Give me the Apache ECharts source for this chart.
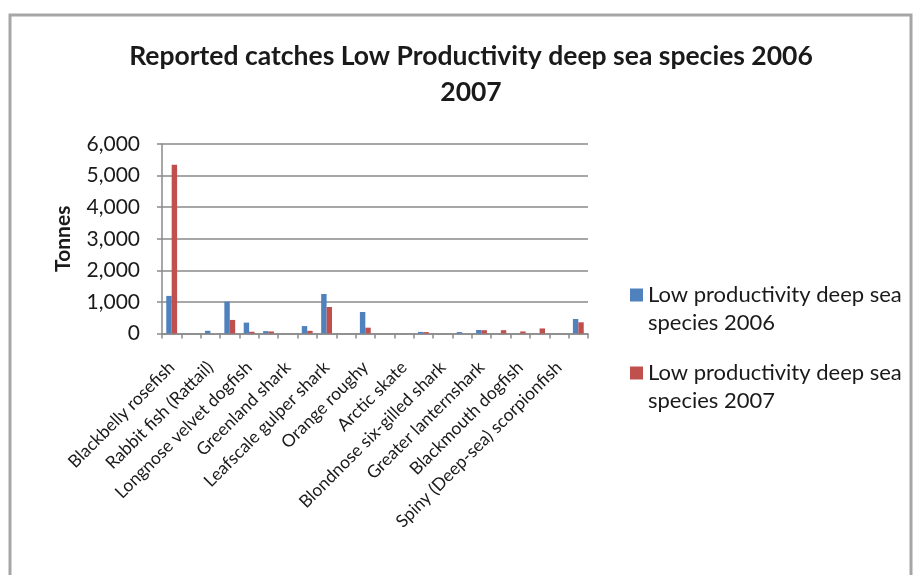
<!DOCTYPE html>
<html>
<head>
<meta charset="utf-8">
<script src="https://cdn.jsdelivr.net/npm/echarts@6/dist/echarts.min.js"></script>
<style>
  html, body { margin: 0; padding: 0; background: #ffffff; }
  #chart { width: 915px; height: 575px; }
</style>
</head>
<body>
<div id="chart"></div>
<script>
// Deep-sea species, in reporting order (only every other name fits on the axis)
const categories = [
  'Blackbelly rosefish', 'Kitefin shark', 'Rabbit fish (Rattail)', 'Portuguese dogfish',
  'Longnose velvet dogfish', 'Gulper shark', 'Greenland shark', 'Black dogfish',
  'Leafscale gulper shark', 'Birdbeak dogfish', 'Orange roughy', 'Smooth lanternshark',
  'Arctic skate', 'Frilled shark', 'Blondnose six-gilled shark', 'Mouse catshark',
  'Greater lanternshark', 'Iceland catshark', 'Blackmouth dogfish', 'Sailfin roughshark',
  'Spiny (Deep-sea) scorpionfish', 'Knifetooth dogfish'
];

// Reported catches in tonnes
const catch2006 = [1190, 0, 86, 1010, 345, 75, 0, 235, 1250, 0, 680, 0, 0, 50, 0, 45, 110, 0, 0, 0, 0, 460];
const catch2007 = [5340, 0, 0, 430, 55, 65, 0, 85, 840, 0, 185, 0, 0, 45, 0, 0, 105, 105, 65, 160, 0, 355];

const seriesNames = [
  'Low productivity deep sea species 2006',
  'Low productivity deep sea species 2007'
];
const yTicks = { min: 0, max: 6000, interval: 1000 };

const FONT = 'Lato, "Open Sans", sans-serif';
const INK = '#1a1a1a';
const GRID_GREY = '#8a8a8a';

const chart = echarts.init(document.getElementById('chart'), null, { renderer: 'canvas' });

// Legend entries wrap after "sea"; a leading blank line keeps the first line level with the swatch
const legendText = name => '\n' + name.replace(' species', '\nspecies');
const LEGEND_LH = 28;
const legendBase = {
  orient: 'vertical',
  left: 625,
  itemWidth: 13,
  itemHeight: 13,
  icon: 'rect',
  textStyle: { fontFamily: FONT, fontSize: 22, color: INK, lineHeight: LEGEND_LH },
  itemGap: 0,
  formatter: legendText
};

chart.setOption({
  animation: false,
  backgroundColor: '#ffffff',
  title: {
    text: 'Reported catches Low Productivity deep sea species 2006\n2007',
    left: 466,
    textAlign: 'center',
    top: 33,
    textStyle: {
      fontFamily: FONT,
      fontWeight: 'bold',
      fontSize: 26.5,
      lineHeight: 36,
      color: INK
    }
  },
  legend: [
    Object.assign({}, legendBase, { top: 295 - 1.5 * LEGEND_LH - 5, data: [seriesNames[0]] }),
    Object.assign({}, legendBase, { top: 373 - 1.5 * LEGEND_LH - 5, data: [seriesNames[1]] })
  ],
  grid: { left: 162, right: 327, top: 144, bottom: 241.5, containLabel: false },
  xAxis: {
    type: 'category',
    data: categories,
    boundaryGap: true,
    axisLine: { show: true, lineStyle: { color: GRID_GREY, width: 1.5 } },
    axisTick: { show: true, length: 5, interval: 0, lineStyle: { color: GRID_GREY, width: 1.5 } },
    axisLabel: {
      interval: 1,
      rotate: 45,
      margin: 31,
      fontFamily: FONT,
      fontSize: 17.5,
      color: INK
    }
  },
  yAxis: {
    type: 'value',
    min: yTicks.min,
    max: yTicks.max,
    interval: yTicks.interval,
    name: 'Tonnes',
    nameLocation: 'middle',
    nameGap: 88,
    nameRotate: 90,
    nameTextStyle: { fontFamily: FONT, fontSize: 21, fontWeight: 'bold', color: INK },
    axisLine: { show: true, lineStyle: { color: GRID_GREY, width: 1.5 } },
    axisTick: { show: true, length: 5, lineStyle: { color: GRID_GREY, width: 1.5 } },
    splitLine: { show: true, lineStyle: { color: GRID_GREY, width: 1.5 } },
    axisLabel: {
      margin: 22,
      fontFamily: FONT,
      fontSize: 21,
      color: INK,
      formatter: v => v.toLocaleString('en-US')
    }
  },
  series: [
    {
      name: seriesNames[0],
      type: 'bar',
      data: catch2006,
      itemStyle: { color: '#4F81BD' },
      barGap: '0%',
      barCategoryGap: '44%'
    },
    {
      name: seriesNames[1],
      type: 'bar',
      data: catch2007,
      itemStyle: { color: '#C0504D' },
      barGap: '0%',
      barCategoryGap: '44%'
    }
  ],
  graphic: [
    {
      type: 'rect',
      silent: true,
      z: -1,
      shape: { x: 10, y: 15, width: 901, height: 620 },
      style: { fill: null, stroke: '#a6a6a6', lineWidth: 3 }
    }
  ]
});
</script>
</body>
</html>
